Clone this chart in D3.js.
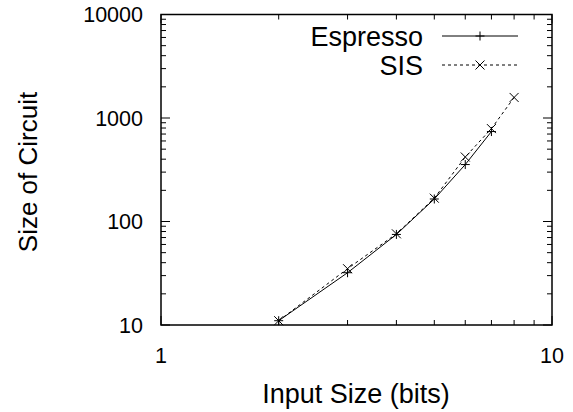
<!DOCTYPE html>
<html><head><meta charset="utf-8">
<script src="https://cdn.jsdelivr.net/npm/d3@7"></script>
<style>body{margin:0;background:#fff}text{font-family:"Liberation Sans",Arial,sans-serif;fill:#000}</style>
</head><body>
<svg id="c" width="573" height="412"></svg>
<script>
const espressoX = [2, 3, 4, 5, 6, 7];
const espressoY = [11, 32, 75, 165, 355, 740];
const sisX = [2, 3, 4, 5, 6, 7, 8];
const sisY = [11, 35, 76, 168, 420, 790, 1580];
const xTicks = [1, 10];
const yTicks = [10, 100, 1000, 10000];
const seriesNames = ["Espresso", "SIS"];

const svg = d3.select("#c");
const L = 161, R = 552, T = 14.5, B = 325;
const x = d3.scaleLog().domain([1, 10]).range([L, R]);
const y = d3.scaleLog().domain([10, 10000]).range([B, T]);
const fsTick = 21.5, fsBig = 27;

const g = svg.append("g").attr("stroke", "#000").attr("stroke-width", 1);
d3.range(2, 10).forEach(v => {
  g.append("line").attr("x1", x(v)).attr("x2", x(v)).attr("y1", B).attr("y2", B - 5);
  g.append("line").attr("x1", x(v)).attr("x2", x(v)).attr("y1", T).attr("y2", T + 5);
});
const yMinor = [];
[10, 100, 1000].forEach(d => d3.range(2, 10).forEach(k => yMinor.push(d * k)));
yMinor.forEach(v => {
  g.append("line").attr("y1", y(v)).attr("y2", y(v)).attr("x1", L).attr("x2", L + 5);
  g.append("line").attr("y1", y(v)).attr("y2", y(v)).attr("x1", R).attr("x2", R - 5);
});
yTicks.forEach(v => {
  g.append("line").attr("y1", y(v)).attr("y2", y(v)).attr("x1", L).attr("x2", L + 9);
  g.append("line").attr("y1", y(v)).attr("y2", y(v)).attr("x1", R).attr("x2", R - 9);
});
xTicks.forEach(v => {
  g.append("line").attr("x1", x(v)).attr("x2", x(v)).attr("y1", B).attr("y2", B - 9);
  g.append("line").attr("x1", x(v)).attr("x2", x(v)).attr("y1", T).attr("y2", T + 9);
});
svg.append("rect").attr("x", L).attr("y", T).attr("width", R - L).attr("height", B - T)
  .attr("fill", "none").attr("stroke", "#000").attr("stroke-width", 1.5);

yTicks.forEach(v => {
  svg.append("text").attr("x", L - 18).attr("y", y(v)).attr("dy", "0.36em")
    .attr("text-anchor", "end").attr("font-size", fsTick).text(v);
});
xTicks.forEach(v => {
  svg.append("text").attr("x", x(v)).attr("y", B + 38)
    .attr("text-anchor", "middle").attr("font-size", fsTick).text(v);
});
svg.append("text").attr("x", 356).attr("y", 403).attr("text-anchor", "middle")
  .attr("font-size", fsBig).text("Input Size (bits)");
svg.append("text").attr("transform", "translate(37,172) rotate(-90)").attr("text-anchor", "middle")
  .attr("font-size", 26).text("Size of Circuit");

function plus(sel, cx, cy) {
  sel.append("path").attr("d", `M${cx - 4.5},${cy}H${cx + 4.5}M${cx},${cy - 4.5}V${cy + 4.5}`)
    .attr("stroke", "#000").attr("stroke-width", 1);
}
function cross(sel, cx, cy) {
  sel.append("path").attr("d", `M${cx - 4.5},${cy - 4.5}L${cx + 4.5},${cy + 4.5}M${cx - 4.5},${cy + 4.5}L${cx + 4.5},${cy - 4.5}`)
    .attr("stroke", "#000").attr("stroke-width", 1);
}

const line = d3.line().x(d => x(d[0])).y(d => y(d[1]));
const espData = espressoX.map((v, i) => [v, espressoY[i]]);
const sisData = sisX.map((v, i) => [v, sisY[i]]);
svg.append("path").attr("d", line(espData)).attr("fill", "none").attr("stroke", "#000").attr("stroke-width", 1);
svg.append("path").attr("d", line(sisData)).attr("fill", "none").attr("stroke", "#000").attr("stroke-width", 1)
  .attr("stroke-dasharray", "3,3");
espData.forEach(d => plus(svg, x(d[0]), y(d[1])));
sisData.forEach(d => cross(svg, x(d[0]), y(d[1])));

const legY = [36, 65];
seriesNames.forEach((n, i) => {
  svg.append("text").attr("x", 423).attr("y", legY[i]).attr("dy", "0.36em")
    .attr("text-anchor", "end").attr("font-size", fsBig).text(n);
  const ln = svg.append("line").attr("x1", 442).attr("x2", 518).attr("y1", legY[i]).attr("y2", legY[i])
    .attr("stroke", "#000").attr("stroke-width", 1);
  if (i === 1) ln.attr("stroke-dasharray", "3,3");
  if (i === 0) plus(svg, 480, legY[i]); else cross(svg, 480, legY[i]);
});
</script>
</body></html>
